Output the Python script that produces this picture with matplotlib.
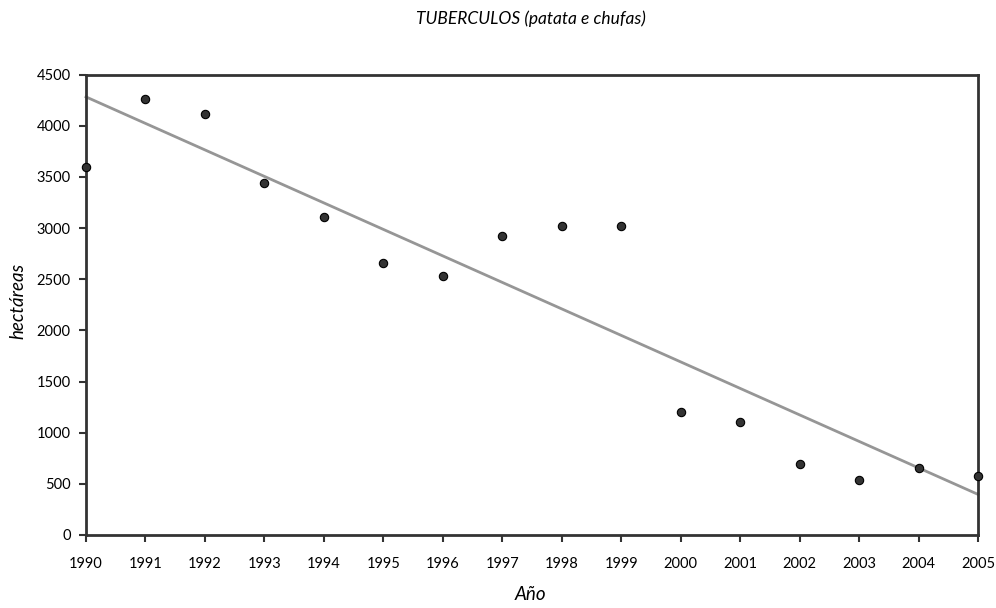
import matplotlib
matplotlib.use("Agg")
import matplotlib.pyplot as plt
import numpy as np

years = [1990, 1991, 1992, 1993, 1994, 1995, 1996, 1997, 1998, 1999,
         2000, 2001, 2002, 2003, 2004, 2005]
hectareas = [3600, 4265, 4113, 3441, 3106, 2655, 2535, 2926, 3018, 3020,
             1199, 1108, 691, 538, 652, 574]
yticks = [0, 500, 1000, 1500, 2000, 2500, 3000, 3500, 4000, 4500]

plt.rcParams['font.family'] = ['Lato', 'DejaVu Sans']

fig = plt.figure(figsize=(9.96, 6.08), dpi=100)
ax = fig.add_axes([86/996, 1-535/608, (978-86)/996, (535-74.7)/608])

x = np.array(years, dtype=float)
y = np.array(hectareas, dtype=float)
m, b = np.polyfit(x, y, 1)
ax.plot([x[0], x[-1]], [m*x[0]+b, m*x[-1]+b], color='#969696', lw=2, zorder=2, clip_on=False)
ax.scatter(x, y, s=36, color='#333333', edgecolors='black', linewidths=0.8, zorder=3, clip_on=False)

ax.set_xlim(1990, 2005)
ax.set_ylim(0, 4500)
ax.set_xticks(years)
ax.set_xticklabels([str(v) for v in years])
ax.set_yticks(yticks)
ax.set_yticklabels([str(v) for v in yticks])

for s in ax.spines.values():
    s.set_color('#333333')
    s.set_linewidth(2)
ax.tick_params(axis='both', direction='out', length=5, width=1.5, color='#333333',
               labelsize=10.5, labelcolor='black')
ax.tick_params(axis='x', pad=11)
ax.tick_params(axis='y', pad=6)

fig.text(531/996, 1-19/608, 'TUBERCULOS (patata e chufas)', ha='center', va='center',
         fontsize=12.5, style='italic')
fig.text(530/996, 1-594/608, 'Año', ha='center', va='center', fontsize=13.5, style='italic')
fig.text(18/996, 1-301/608, 'hectáreas', ha='center', va='center', fontsize=13.5,
         style='italic', rotation=90)

fig.savefig('out.png', dpi=100)
